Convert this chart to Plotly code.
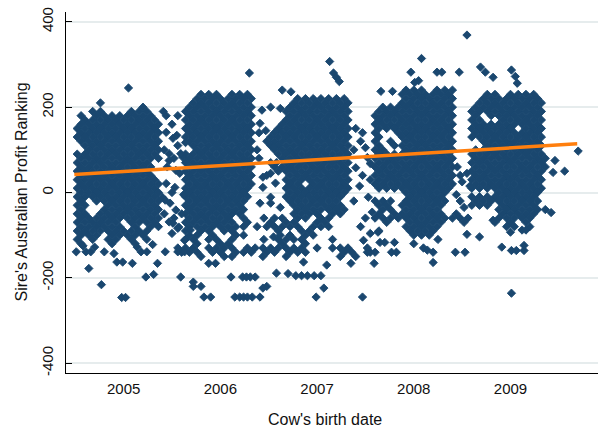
import plotly.graph_objects as go

# ---------------- data: sire APR (rows) x cow birth dates (decimal year) ----------------
APR_2005 = [210, 200, 190, 180, 170, 160, 150, 140, 130, 120, 110, 100, 90, 80, 70, 60, 50, 40, 30, 20, 10, 0,
            -10, -20, -30, -40, -50, -60, -70, -80, -90, -100, -110, -120]
DATES_2005 = [
    [2004.76],
    [2005.20],
    [2004.68, 2004.76, 2005.08, 2005.16, 2005.24],
    [2004.56, 2004.72, 2004.80, 2004.88, 2004.96, 2005.04, 2005.12, 2005.20, 2005.28],
    [2004.60, 2004.68, 2004.76, 2004.84, 2004.92, 2005.00, 2005.08, 2005.16, 2005.24, 2005.32],
    [2004.56, 2004.64, 2004.72, 2004.80, 2004.88, 2004.96, 2005.04, 2005.12, 2005.20, 2005.28, 2005.36],
    [2004.52, 2004.60, 2004.68, 2004.76, 2004.84, 2004.92, 2005.00, 2005.08, 2005.16, 2005.24, 2005.32],
    [2004.56, 2004.64, 2004.72, 2004.80, 2004.88, 2004.96, 2005.04, 2005.12, 2005.20, 2005.28, 2005.36],
    [2004.52, 2004.60, 2004.68, 2004.76, 2004.84, 2004.92, 2005.00, 2005.08, 2005.16, 2005.24, 2005.32],
    [2004.56, 2004.64, 2004.72, 2004.80, 2004.88, 2004.96, 2005.04, 2005.12, 2005.20, 2005.28, 2005.36],
    [2004.60, 2004.68, 2004.76, 2004.84, 2004.92, 2005.00, 2005.08, 2005.16, 2005.24, 2005.32],
    [2004.64, 2004.72, 2004.80, 2004.88, 2004.96, 2005.04, 2005.12, 2005.20, 2005.28, 2005.36],
    [2004.52, 2004.60, 2004.68, 2004.76, 2004.84, 2004.92, 2005.00, 2005.08, 2005.16, 2005.24, 2005.32],
    [2004.56, 2004.64, 2004.72, 2004.80, 2004.88, 2004.96, 2005.04, 2005.12, 2005.20, 2005.28, 2005.36],
    [2004.52, 2004.60, 2004.68, 2004.76, 2004.84, 2004.92, 2005.00, 2005.08, 2005.16, 2005.24],
    [2004.56, 2004.64, 2004.72, 2004.80, 2004.88, 2004.96, 2005.04, 2005.12, 2005.20, 2005.28],
    [2004.52, 2004.60, 2004.68, 2004.76, 2004.84, 2004.92, 2005.00, 2005.08, 2005.16, 2005.24],
    [2004.56, 2004.64, 2004.72, 2004.80, 2004.88, 2004.96, 2005.04, 2005.12, 2005.20, 2005.28],
    [2004.52, 2004.60, 2004.68, 2004.76, 2004.84, 2004.92, 2005.00, 2005.08, 2005.16, 2005.24, 2005.32],
    [2004.56, 2004.64, 2004.72, 2004.80, 2004.88, 2004.96, 2005.04, 2005.12, 2005.20, 2005.28, 2005.36],
    [2004.52, 2004.60, 2004.68, 2004.76, 2004.84, 2004.92, 2005.00, 2005.08, 2005.16, 2005.24, 2005.32],
    [2004.56, 2004.64, 2004.72, 2004.80, 2004.88, 2004.96, 2005.04, 2005.12, 2005.20, 2005.28, 2005.36],
    [2004.52, 2004.60, 2004.68, 2004.76, 2004.84, 2004.92, 2005.00, 2005.08, 2005.16, 2005.24, 2005.32],
    [2004.56, 2004.72, 2004.80, 2004.88, 2004.96, 2005.04, 2005.12, 2005.20, 2005.28, 2005.36],
    [2004.52, 2004.60, 2004.84, 2004.92, 2005.00, 2005.08, 2005.16, 2005.24, 2005.32],
    [2004.56, 2004.80, 2004.88, 2004.96, 2005.04, 2005.12, 2005.20, 2005.28, 2005.36],
    [2004.52, 2004.60, 2004.76, 2004.84, 2004.92, 2005.00, 2005.08, 2005.16, 2005.24, 2005.32],
    [2004.56, 2004.64, 2004.72, 2004.80, 2004.88, 2004.96, 2005.04, 2005.12, 2005.20, 2005.28, 2005.36],
    [2004.52, 2004.60, 2004.68, 2004.76, 2004.84, 2004.92, 2005.08, 2005.16, 2005.24, 2005.32],
    [2004.56, 2004.64, 2004.72, 2004.80, 2004.88, 2004.96, 2005.12, 2005.28, 2005.36],
    [2004.52, 2004.60, 2004.68, 2004.76, 2004.84, 2004.92, 2005.00, 2005.08, 2005.16, 2005.24],
    [2004.56, 2004.64, 2004.72, 2004.88, 2004.96, 2005.04, 2005.12, 2005.20],
    [2004.52, 2004.68, 2004.84, 2004.92, 2005.08, 2005.24],
    [2004.56, 2004.88, 2005.12],
]

APR_2006 = [230, 220, 210, 200, 190, 180, 170, 160, 150, 140, 130, 120, 110, 100, 90, 80, 70, 60, 50, 40, 30, 20,
            10, 0, -10, -20, -30, -40, -50, -60, -70, -80, -90, -100, -110, -120, -130, -140, -150]
DATES_2006 = [
    [2005.80, 2005.88, 2005.96, 2006.12, 2006.20, 2006.28],
    [2005.76, 2005.84, 2005.92, 2006.00, 2006.08, 2006.16, 2006.24, 2006.32],
    [2005.72, 2005.80, 2005.88, 2005.96, 2006.04, 2006.12, 2006.20, 2006.28],
    [2005.68, 2005.76, 2005.84, 2005.92, 2006.00, 2006.08, 2006.16, 2006.24, 2006.32],
    [2005.64, 2005.72, 2005.80, 2005.88, 2005.96, 2006.04, 2006.12, 2006.20, 2006.28],
    [2005.68, 2005.76, 2005.84, 2005.92, 2006.00, 2006.08, 2006.16, 2006.24, 2006.32],
    [2005.64, 2005.72, 2005.80, 2005.88, 2005.96, 2006.04, 2006.12, 2006.20, 2006.28],
    [2005.68, 2005.76, 2005.84, 2005.92, 2006.00, 2006.08, 2006.16, 2006.24, 2006.32],
    [2005.64, 2005.72, 2005.80, 2005.88, 2005.96, 2006.04, 2006.12, 2006.20, 2006.28],
    [2005.68, 2005.76, 2005.84, 2005.92, 2006.00, 2006.08, 2006.16, 2006.24, 2006.32],
    [2005.64, 2005.72, 2005.80, 2005.88, 2005.96, 2006.04, 2006.12, 2006.20, 2006.28],
    [2005.68, 2005.76, 2005.84, 2005.92, 2006.00, 2006.08, 2006.16, 2006.24, 2006.32],
    [2005.72, 2005.80, 2005.88, 2005.96, 2006.04, 2006.12, 2006.20, 2006.28],
    [2005.76, 2005.84, 2005.92, 2006.00, 2006.08, 2006.16, 2006.24, 2006.32],
    [2005.64, 2005.72, 2005.80, 2005.88, 2005.96, 2006.04, 2006.12, 2006.20, 2006.28],
    [2005.68, 2005.76, 2005.84, 2005.92, 2006.00, 2006.08, 2006.16, 2006.24, 2006.32],
    [2005.64, 2005.72, 2005.80, 2005.88, 2005.96, 2006.04, 2006.12, 2006.20, 2006.28],
    [2005.68, 2005.76, 2005.84, 2005.92, 2006.00, 2006.08, 2006.16, 2006.24, 2006.32],
    [2005.64, 2005.72, 2005.80, 2005.88, 2005.96, 2006.04, 2006.12, 2006.20, 2006.28],
    [2005.68, 2005.76, 2005.84, 2005.92, 2006.00, 2006.08, 2006.16, 2006.24, 2006.32],
    [2005.64, 2005.72, 2005.80, 2005.88, 2005.96, 2006.04, 2006.12, 2006.20, 2006.28],
    [2005.68, 2005.76, 2005.84, 2005.92, 2006.00, 2006.08, 2006.16, 2006.24, 2006.32],
    [2005.64, 2005.72, 2005.80, 2005.88, 2005.96, 2006.04, 2006.12, 2006.20, 2006.28],
    [2005.68, 2005.76, 2005.84, 2005.92, 2006.00, 2006.08, 2006.16, 2006.24],
    [2005.64, 2005.72, 2005.80, 2005.88, 2005.96, 2006.04, 2006.12, 2006.20, 2006.28],
    [2005.68, 2005.76, 2005.84, 2005.92, 2006.00, 2006.08, 2006.16, 2006.24],
    [2005.64, 2005.72, 2005.80, 2005.88, 2005.96, 2006.04, 2006.12, 2006.20],
    [2005.68, 2005.76, 2005.84, 2005.92, 2006.00, 2006.08, 2006.16, 2006.24],
    [2005.64, 2005.72, 2005.80, 2005.88, 2005.96, 2006.04, 2006.12, 2006.20],
    [2005.68, 2005.76, 2005.84, 2005.92, 2006.00, 2006.08, 2006.24],
    [2005.64, 2005.72, 2005.80, 2005.88, 2005.96, 2006.04, 2006.12, 2006.28],
    [2005.68, 2005.76, 2005.84, 2005.92, 2006.00, 2006.08, 2006.16, 2006.24],
    [2005.64, 2005.80, 2005.88, 2006.04, 2006.12],
    [2005.68, 2005.76, 2005.92, 2006.16, 2006.24],
    [2005.64, 2005.72, 2005.88, 2005.96, 2006.12],
    [2005.76, 2006.00, 2006.08],
    [2005.56, 2005.64, 2005.72, 2005.88, 2005.96, 2006.04, 2006.12, 2006.28, 2006.36, 2006.44, 2006.52],
    [2005.60, 2005.68, 2005.76, 2005.92, 2006.00, 2006.16, 2006.24, 2006.32, 2006.48, 2006.56],
    [2005.80, 2006.04, 2006.12, 2006.44],
]

APR_2007 = [220, 210, 200, 190, 180, 170, 160, 150, 140, 130, 120, 110, 100, 90, 80, 70, 60, 50, 40, 30, 20, 10,
            0, -10, -20, -30, -40, -50, -60, -70, -80, -90, -100, -110, -120, -130, -140, -150]
DATES_2007 = [
    [2006.80, 2006.88, 2006.96, 2007.04, 2007.12, 2007.20, 2007.28],
    [2006.76, 2006.84, 2006.92, 2007.00, 2007.08, 2007.16, 2007.24, 2007.32],
    [2006.72, 2006.80, 2006.88, 2006.96, 2007.04, 2007.12, 2007.20, 2007.28],
    [2006.68, 2006.76, 2006.84, 2006.92, 2007.00, 2007.08, 2007.16, 2007.24, 2007.32],
    [2006.72, 2006.80, 2006.88, 2006.96, 2007.04, 2007.12, 2007.20, 2007.28],
    [2006.68, 2006.76, 2006.84, 2006.92, 2007.00, 2007.08, 2007.16, 2007.24, 2007.32],
    [2006.64, 2006.72, 2006.80, 2006.88, 2006.96, 2007.04, 2007.12, 2007.20, 2007.28],
    [2006.60, 2006.68, 2006.76, 2006.84, 2006.92, 2007.00, 2007.08, 2007.16, 2007.24, 2007.32],
    [2006.56, 2006.64, 2006.72, 2006.80, 2006.88, 2006.96, 2007.04, 2007.12, 2007.20, 2007.28],
    [2006.52, 2006.60, 2006.68, 2006.76, 2006.84, 2006.92, 2007.00, 2007.08, 2007.16, 2007.24, 2007.32],
    [2006.48, 2006.56, 2006.64, 2006.72, 2006.80, 2006.88, 2006.96, 2007.04, 2007.12, 2007.20, 2007.28],
    [2006.52, 2006.60, 2006.68, 2006.76, 2006.84, 2006.92, 2007.00, 2007.08, 2007.16, 2007.24, 2007.32],
    [2006.56, 2006.64, 2006.72, 2006.80, 2006.88, 2006.96, 2007.04, 2007.12, 2007.20, 2007.28],
    [2006.60, 2006.68, 2006.76, 2006.84, 2006.92, 2007.00, 2007.08, 2007.16, 2007.24, 2007.32],
    [2006.64, 2006.72, 2006.80, 2006.88, 2006.96, 2007.04, 2007.12, 2007.20, 2007.28],
    [2006.52, 2006.68, 2006.76, 2006.84, 2006.92, 2007.00, 2007.08, 2007.16, 2007.24, 2007.32],
    [2006.56, 2006.64, 2006.72, 2006.80, 2006.88, 2006.96, 2007.04, 2007.12, 2007.20, 2007.28],
    [2006.60, 2006.68, 2006.76, 2006.84, 2006.92, 2007.00, 2007.08, 2007.16, 2007.24, 2007.32],
    [2006.48, 2006.72, 2006.80, 2006.88, 2006.96, 2007.04, 2007.12, 2007.20, 2007.28],
    [2006.68, 2006.76, 2006.84, 2006.92, 2007.00, 2007.08, 2007.16, 2007.24, 2007.32],
    [2006.72, 2006.80, 2006.96, 2007.04, 2007.12, 2007.20, 2007.28],
    [2006.68, 2006.76, 2006.84, 2006.92, 2007.00, 2007.08, 2007.16, 2007.24, 2007.32],
    [2006.72, 2006.80, 2006.88, 2006.96, 2007.04, 2007.12, 2007.20, 2007.28],
    [2006.68, 2006.76, 2006.84, 2006.92, 2007.00, 2007.08, 2007.16, 2007.24],
    [2006.72, 2006.80, 2006.88, 2006.96, 2007.04, 2007.12, 2007.20],
    [2006.76, 2006.84, 2006.92, 2007.00, 2007.08, 2007.16, 2007.24],
    [2006.80, 2006.88, 2006.96, 2007.04, 2007.12, 2007.20, 2007.28],
    [2006.76, 2006.84, 2006.92, 2007.00, 2007.16, 2007.24],
    [2006.56, 2006.64, 2006.80, 2006.88, 2007.04, 2007.12],
    [2006.52, 2006.68, 2006.76, 2007.00, 2007.08],
    [2006.48, 2006.56, 2006.64, 2006.72, 2006.80, 2006.96, 2007.04, 2007.12],
    [2006.60, 2006.84, 2006.92],
    [2006.72, 2006.88, 2006.96],
    [2006.60, 2006.68, 2006.76, 2006.84, 2007.16],
    [2006.64, 2006.88],
    [2006.60, 2006.68, 2006.76, 2006.84, 2007.00, 2007.16, 2007.24, 2007.32],
    [2006.72, 2006.80, 2006.88, 2007.28, 2007.36],
    [2006.68, 2007.24, 2007.40],
]

APR_2008 = [240, 230, 220, 210, 200, 190, 180, 170, 160, 150, 140, 130, 120, 110, 100, 90, 80, 70, 60, 50, 40,
            30, 20, 10, 0, -10, -20, -30, -40, -50, -60, -70, -80, -90, -100]
DATES_2008 = [
    [2007.92, 2008.00, 2008.08, 2008.24, 2008.32, 2008.40],
    [2007.88, 2007.96, 2008.04, 2008.12, 2008.20, 2008.28, 2008.36],
    [2007.92, 2008.00, 2008.08, 2008.16, 2008.24, 2008.32, 2008.40],
    [2007.88, 2007.96, 2008.04, 2008.12, 2008.20, 2008.28, 2008.36],
    [2007.68, 2007.76, 2007.84, 2007.92, 2008.00, 2008.08, 2008.16, 2008.24, 2008.32, 2008.40],
    [2007.64, 2007.72, 2007.80, 2007.88, 2007.96, 2008.04, 2008.12, 2008.20, 2008.28, 2008.36],
    [2007.60, 2007.68, 2007.76, 2007.84, 2007.92, 2008.00, 2008.08, 2008.16, 2008.24, 2008.32, 2008.40],
    [2007.64, 2007.72, 2007.80, 2007.88, 2007.96, 2008.04, 2008.12, 2008.20, 2008.28, 2008.36],
    [2007.60, 2007.68, 2007.76, 2007.84, 2007.92, 2008.00, 2008.08, 2008.16, 2008.24, 2008.32, 2008.40],
    [2007.64, 2007.72, 2007.80, 2007.88, 2007.96, 2008.04, 2008.12, 2008.20, 2008.28, 2008.36],
    [2007.60, 2007.84, 2007.92, 2008.00, 2008.08, 2008.16, 2008.24, 2008.32, 2008.40],
    [2007.64, 2007.88, 2007.96, 2008.04, 2008.12, 2008.20, 2008.28, 2008.36],
    [2007.60, 2007.76, 2007.92, 2008.00, 2008.08, 2008.16, 2008.24, 2008.32, 2008.40],
    [2007.64, 2007.80, 2007.88, 2007.96, 2008.04, 2008.12, 2008.20, 2008.28, 2008.36],
    [2007.60, 2007.68, 2007.92, 2008.00, 2008.08, 2008.16, 2008.24, 2008.32, 2008.40],
    [2007.64, 2007.72, 2007.80, 2007.88, 2007.96, 2008.04, 2008.12, 2008.20, 2008.28, 2008.36],
    [2007.60, 2007.68, 2007.76, 2007.84, 2007.92, 2008.00, 2008.08, 2008.16, 2008.24, 2008.32, 2008.40],
    [2007.64, 2007.72, 2007.80, 2007.88, 2007.96, 2008.04, 2008.12, 2008.20, 2008.28, 2008.36],
    [2007.60, 2007.68, 2007.76, 2007.84, 2007.92, 2008.00, 2008.08, 2008.16, 2008.24, 2008.32, 2008.40],
    [2007.64, 2007.72, 2007.80, 2007.88, 2007.96, 2008.04, 2008.12, 2008.20, 2008.28, 2008.36],
    [2007.60, 2007.68, 2007.76, 2007.84, 2007.92, 2008.00, 2008.08, 2008.16, 2008.24, 2008.32, 2008.40],
    [2007.64, 2007.72, 2007.80, 2007.88, 2007.96, 2008.04, 2008.12, 2008.20, 2008.28, 2008.36],
    [2007.60, 2007.68, 2007.76, 2007.84, 2007.92, 2008.00, 2008.08, 2008.16, 2008.24, 2008.32, 2008.40],
    [2007.64, 2007.72, 2007.80, 2007.88, 2007.96, 2008.04, 2008.12, 2008.20, 2008.28, 2008.36],
    [2007.92, 2008.00, 2008.08, 2008.16, 2008.24, 2008.32],
    [2007.96, 2008.04, 2008.12, 2008.20, 2008.28],
    [2007.60, 2007.68, 2007.76, 2007.92, 2008.00, 2008.08, 2008.16, 2008.24, 2008.32, 2008.48],
    [2007.64, 2007.72, 2007.88, 2007.96, 2008.04, 2008.12, 2008.20, 2008.28],
    [2007.68, 2007.76, 2007.92, 2008.00, 2008.08, 2008.16, 2008.24],
    [2007.64, 2007.80, 2007.88, 2007.96, 2008.04, 2008.12, 2008.20, 2008.28, 2008.44],
    [2007.60, 2007.68, 2007.76, 2007.84, 2007.92, 2008.00, 2008.08, 2008.16, 2008.24, 2008.32, 2008.40,
     2008.48, 2008.56],
    [2007.72, 2007.96, 2008.04, 2008.12, 2008.20, 2008.28, 2008.52],
    [2007.92, 2008.00, 2008.08, 2008.16, 2008.24],
    [2007.64, 2007.96, 2008.04, 2008.12, 2008.20],
    [2008.00, 2008.08, 2008.16],
]

APR_2009 = [230, 220, 210, 200, 190, 180, 170, 160, 150, 140, 130, 120, 110, 100, 90, 80, 70, 60, 50, 40, 30,
            20, 10, 0, -10, -20, -30, -40, -50, -60, -70, -80]
DATES_2009 = [
    [2008.76, 2008.84, 2009.00, 2009.08, 2009.16, 2009.24],
    [2008.72, 2008.80, 2008.88, 2008.96, 2009.04, 2009.12, 2009.20, 2009.28],
    [2008.68, 2008.76, 2008.84, 2008.92, 2009.00, 2009.08, 2009.16, 2009.24, 2009.32],
    [2008.64, 2008.72, 2008.80, 2008.88, 2008.96, 2009.04, 2009.12, 2009.20, 2009.28],
    [2008.60, 2008.68, 2008.76, 2008.84, 2008.92, 2009.00, 2009.08, 2009.16, 2009.24, 2009.32],
    [2008.64, 2008.80, 2008.88, 2008.96, 2009.04, 2009.12, 2009.20, 2009.28],
    [2008.60, 2008.68, 2008.92, 2009.00, 2009.08, 2009.16, 2009.24, 2009.32],
    [2008.64, 2008.72, 2008.80, 2008.88, 2008.96, 2009.04, 2009.12, 2009.20, 2009.28],
    [2008.60, 2008.68, 2008.76, 2008.84, 2008.92, 2009.00, 2009.16, 2009.24, 2009.32],
    [2008.64, 2008.72, 2008.80, 2008.88, 2008.96, 2009.04, 2009.12, 2009.20, 2009.28],
    [2008.60, 2008.68, 2008.76, 2008.84, 2008.92, 2009.00, 2009.08, 2009.16, 2009.24, 2009.32],
    [2008.72, 2008.80, 2008.88, 2008.96, 2009.04, 2009.12, 2009.20, 2009.28],
    [2008.76, 2008.84, 2008.92, 2009.00, 2009.08, 2009.16, 2009.24, 2009.32],
    [2008.64, 2008.72, 2008.80, 2008.88, 2008.96, 2009.04, 2009.12, 2009.20, 2009.28],
    [2008.60, 2008.68, 2008.76, 2008.84, 2008.92, 2009.00, 2009.08, 2009.16, 2009.24, 2009.32],
    [2008.64, 2008.72, 2008.80, 2008.88, 2008.96, 2009.04, 2009.12, 2009.20, 2009.28, 2009.36],
    [2008.60, 2008.68, 2008.76, 2008.84, 2008.92, 2009.00, 2009.08, 2009.16, 2009.24, 2009.32],
    [2008.64, 2008.72, 2008.80, 2008.88, 2008.96, 2009.04, 2009.12, 2009.20, 2009.28, 2009.36],
    [2008.60, 2008.68, 2008.76, 2008.84, 2008.92, 2009.00, 2009.08, 2009.16, 2009.24, 2009.32],
    [2008.64, 2008.72, 2008.80, 2008.88, 2008.96, 2009.04, 2009.12, 2009.20, 2009.28],
    [2008.60, 2008.68, 2008.76, 2008.84, 2008.92, 2009.00, 2009.08, 2009.16, 2009.24, 2009.32],
    [2008.64, 2008.72, 2008.80, 2008.88, 2008.96, 2009.04, 2009.12, 2009.20, 2009.28],
    [2008.60, 2008.68, 2008.76, 2008.84, 2008.92, 2009.00, 2009.08, 2009.16, 2009.24, 2009.32],
    [2008.88, 2008.96, 2009.04, 2009.12, 2009.20, 2009.28],
    [2008.60, 2008.68, 2008.76, 2008.84, 2008.92, 2009.00, 2009.08, 2009.16, 2009.24],
    [2008.64, 2008.72, 2008.80, 2008.88, 2008.96, 2009.04, 2009.12, 2009.20, 2009.28],
    [2008.60, 2008.68, 2008.76, 2008.92, 2009.00, 2009.08, 2009.16, 2009.24],
    [2008.88, 2008.96, 2009.04, 2009.12, 2009.20, 2009.28, 2009.36],
    [2008.92, 2009.00, 2009.08, 2009.16, 2009.24],
    [2008.88, 2008.96, 2009.04, 2009.12, 2009.20],
    [2008.84, 2009.00, 2009.16],
    [2008.96, 2009.04, 2009.20],
]

# scattered cows outside the dense seasonal blocks
OTHER_DATE = [
    2005.05, 2004.51, 2004.61, 2004.66, 2004.80, 2004.90, 2004.99, 2005.09, 2005.18, 2005.24, 2005.35, 2005.43,
    2005.56, 2005.63, 2004.64, 2004.77, 2004.98, 2005.02, 2005.23, 2005.31, 2005.59, 2005.72, 2004.93, 2004.58,
    2004.70, 2005.14, 2005.30,
    2005.44, 2005.56, 2005.44, 2005.51, 2005.56, 2005.64, 2005.47, 2005.61, 2005.54, 2005.44, 2005.40, 2005.48,
    2005.54, 2005.47, 2005.57, 2005.50, 2005.69, 2005.63, 2005.42, 2005.45, 2005.50, 2005.42, 2005.50, 2005.41,
    2005.55, 2005.59, 2005.53, 2005.60, 2005.58, 2005.62, 2005.52, 2005.47, 2005.52, 2005.43, 2005.51, 2005.56,
    2006.11, 2006.23, 2006.27, 2006.31, 2006.36, 2005.72, 2005.80, 2006.48, 2005.83, 2005.90, 2006.15, 2006.20,
    2006.24, 2006.28, 2006.33, 2006.41, 2005.88, 2005.95, 2006.30,
    2006.43, 2006.52, 2006.62, 2006.41, 2006.47, 2006.55, 2006.44, 2006.52, 2006.57, 2006.44, 2006.52, 2006.41,
    2006.52, 2006.62, 2006.55, 2006.62, 2006.45, 2006.58, 2006.40, 2006.40, 2006.38, 2006.45, 2006.38,
    2006.64, 2006.73, 2007.17, 2007.20, 2007.23, 2007.13, 2006.58, 2006.70, 2006.78, 2006.84, 2006.90, 2006.97,
    2007.04, 2006.44, 2007.07, 2006.99, 2007.47, 2007.35, 2007.52, 2007.55, 2006.86, 2007.10,
    2007.40, 2007.47, 2007.45, 2007.50, 2007.40, 2007.47, 2007.44, 2007.52, 2007.55, 2007.55, 2007.53, 2007.57,
    2007.50, 2007.55, 2007.48, 2007.52, 2007.45, 2007.38, 2007.38,
    2008.08, 2007.97, 2008.24, 2008.29, 2008.47, 2008.01, 2008.05, 2008.55, 2007.66, 2007.78, 2007.63, 2007.65,
    2007.70, 2007.80, 2007.60, 2007.77, 2007.82, 2007.59, 2008.10, 2008.14, 2008.20, 2008.20, 2008.43, 2008.53,
    2008.55, 2008.68, 2008.25, 2008.00,
    2008.45, 2008.55, 2008.50, 2008.58, 2008.48, 2008.44, 2008.52,
    2008.82, 2009.00, 2009.12, 2009.16, 2008.91, 2009.01, 2009.06, 2009.14, 2009.14, 2009.01, 2008.69, 2008.74,
    2008.82, 2009.01, 2009.05, 2009.07, 2009.46, 2009.44, 2009.56, 2009.70, 2009.42,
]
OTHER_APR = [
    245, -139, -139, -139, -139, -143, -163, -166, -139, -139, -166, -139,
    -139, -139, -178, -216, -246, -246, -198, -192, -198, -210, -163, -125,
    -128, -128, -122,
    180, 180, 141, 127, 110, 117, 75, 83, 52, 21, -11, -25,
    -41, -69, -81, -96, -88, -112, 100, 60, 0, -50, 160, 190,
    134, 91, 12, -50, 45, -5, -60, 91, 80, -18, -72, -84,
    -198, -198, -198, -198, -198, -220, -220, -220, -245, -245, -245, -245,
    -245, -245, -245, -245, -166, -166, 280,
    193, 200, 197, 162, 145, 106, 36, 45, 22, 12, -11, -25,
    -25, -35, -104, -100, -60, 70, 80, 140, 100, -110, -80,
    240, 236, 280, 270, 260, 307, -189, -190, -195, -195, -195, -195,
    -195, -224, -224, -245, -245, -166, -140, -140, -163, -170,
    150, 140, 120, 105, 58, 40, 15, 82, 68, 30, -11, -46,
    -60, -96, -112, -130, -80, -20, 100,
    314, 282, 282, 282, 282, 258, 262, 369, 237, 237, -93, -117,
    -117, -117, -140, -140, -140, -166, -130, -135, -140, -164, -140, -140,
    -98, -104, -110, -120,
    60, 45, 25, 15, 40, -5, -35,
    -65, -93, -88, -88, -128, -136, -136, -136, -124, -236, 294, 282,
    270, 287, 272, 256, 75, 47, 50, 97, -47,
]

# fitted (linear) line
FIT_DATE = [2004.49, 2009.69]
FIT_APR = [42, 114]

YEAR_TICKS = [2005, 2006, 2007, 2008, 2009]
YEAR_LABELS = ["2005", "2006", "2007", "2008", "2009"]
APR_TICKS = [-400, -200, 0, 200, 400]
APR_LABELS = ["-400", "-200", "0", "200", "400"]

# ---------------- assemble ----------------
xs, ys = [], []
for levels, dates in ((APR_2005, DATES_2005), (APR_2006, DATES_2006), (APR_2007, DATES_2007),
                      (APR_2008, DATES_2008), (APR_2009, DATES_2009)):
    for apr, row in zip(levels, dates):
        xs.extend(row)
        ys.extend([apr] * len(row))
xs.extend(OTHER_DATE)
ys.extend(OTHER_APR)

NAVY = "#1a476f"
ORANGE = "#ff7f0e"
FONT = "Liberation Sans, Arial, sans-serif"

fig = go.Figure()
fig.add_trace(go.Scatter(x=xs, y=ys, mode="markers",
                         marker=dict(symbol="diamond", size=6.4, color=NAVY, line=dict(width=0.9, color=NAVY)),
                         showlegend=False, hoverinfo="skip"))
fig.add_trace(go.Scatter(x=FIT_DATE, y=FIT_APR, mode="lines",
                         line=dict(color=ORANGE, width=3.5), showlegend=False, hoverinfo="skip"))

fig.update_layout(
    width=598, height=432,
    margin=dict(l=66, r=0, t=12, b=59, pad=0),
    paper_bgcolor="white", plot_bgcolor="white",
    font=dict(family=FONT, size=15, color="#111111"),
    xaxis=dict(range=[2004.404, 2009.905], tickvals=YEAR_TICKS, ticktext=YEAR_LABELS,
               showgrid=False, zeroline=False, showline=True, linecolor="black", linewidth=1.2,
               ticks="", tickfont=dict(size=15), ticklabelstandoff=2),
    yaxis=dict(range=[-423, 423], tickvals=APR_TICKS, ticktext=APR_LABELS,
               showgrid=True, gridcolor="#e6eced", gridwidth=1.5, zeroline=False,
               showline=True, linecolor="black", linewidth=1.2,
               ticks="inside", ticklen=6, tickcolor="black", tickwidth=1.2,
               tickangle=-90, tickfont=dict(size=15), ticklabelstandoff=6),
    annotations=[
        dict(text="Cow's birth date", xref="paper", yref="paper", x=0.487, y=-0.130,
             xanchor="center", yanchor="middle", showarrow=False, font=dict(size=16)),
        dict(text="Sire's Australian Profit Ranking", xref="paper", yref="paper", x=-0.0845, y=0.5,
             xanchor="center", yanchor="middle", textangle=-90, showarrow=False, font=dict(size=16)),
    ],
)

fig.write_html("out.html")
